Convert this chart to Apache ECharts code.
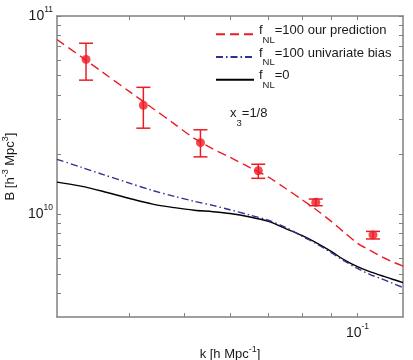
<!DOCTYPE html>
<html><head><meta charset="utf-8">
<script src="https://cdn.jsdelivr.net/npm/echarts@6/dist/echarts.min.js"></script>
<style>html,body{margin:0;padding:0;background:#fff}#c{width:413px;height:360px}</style>
</head><body><div id="c"></div>
<script>
// ---- data ----
const kGrid = [0.03, 0.033, 0.036, 0.04, 0.044, 0.048, 0.052, 0.056, 0.06, 0.065, 0.07, 0.075, 0.08, 0.085, 0.09, 0.095, 0.1, 0.105, 0.11, 0.115, 0.12];
const bPrediction = [7.61e10, 6.25e10, 5.21e10, 4.18e10, 3.43e10, 2.86e10, 2.415e10, 2.14e10, 1.94e10, 1.72e10, 1.54e10, 1.35e10, 1.188e10, 1.05e10, 9.22e9, 8.08e9, 7.15e9, 6.61e9, 6.13e9, 5.77e9, 5.49e9];
const bUnivariate = [1.894e10, 1.731e10, 1.592e10, 1.441e10, 1.32e10, 1.233e10, 1.164e10, 1.11e10, 1.055e10, 9.92e9, 9.34e9, 8.6e9, 7.78e9, 7.09e9, 6.41e9, 5.81e9, 5.34e9, 4.99e9, 4.74e9, 4.5e9, 4.28e9];
const bGaussian = [1.455e10, 1.388e10, 1.308e10, 1.206e10, 1.127e10, 1.082e10, 1.05e10, 1.032e10, 1.01e10, 9.7e9, 9.22e9, 8.48e9, 7.83e9, 7.17e9, 6.51e9, 5.88e9, 5.45e9, 5.15e9, 4.92e9, 4.71e9, 4.53e9];
const kPoints = [0.0337, 0.0424, 0.0533, 0.0672, 0.0846, 0.1064];
const bPoints = [6.04e10, 3.55e10, 2.30e10, 1.66e10, 1.15e10, 7.88e9];
const bLow = [4.75e10, 2.72e10, 1.95e10, 1.52e10, 1.106e10, 7.52e9];
const bHigh = [7.29e10, 4.37e10, 2.67e10, 1.79e10, 1.195e10, 8.21e9];
const xTickValues = [0.04, 0.05, 0.06, 0.07, 0.08, 0.09, 0.1];
const xLabelValues = [0.1];
const yTickValues = [4e9, 5e9, 6e9, 7e9, 8e9, 9e9, 1e10, 2e10, 3e10, 4e10, 5e10, 6e10, 7e10, 8e10, 9e10, 1e11];
const yLabelValues = [1e10, 1e11];
const seriesNames = ['f_NL=100 our prediction', 'f_NL=100 univariate bias', 'f_NL=0'];

// ---- styles ----
const RED = '#ed1c24', BLUE = '#2e3192', BLACK = '#000000', AX = '#808080', TXT = '#1a1a1a';
const FONT = 'Liberation Sans, Arial, Helvetica, sans-serif';
const pair = (xs, ys) => xs.map((x, i) => [x, ys[i]]);
const expLabel = v => '{b|10}{s|' + Math.round(Math.log10(v)) + '}';
const tickRich = {
  b: {fontSize: 14, fontFamily: FONT, color: TXT, padding: [4, 0, 4, 0]},
  s: {fontSize: 8.5, fontFamily: FONT, color: TXT, padding: [0, 0, 13.5, 0]}
};
const nameRich = {
  m: {fontSize: 13, fontFamily: FONT, color: TXT, padding: [3, 0, 0, 0]},
  p: {fontSize: 9, fontFamily: FONT, color: TXT, padding: [0, 0, 7, 0]}
};
const subRich = {
  m: {fontSize: 13, fontFamily: FONT, color: TXT, padding: [0, 0, 8, 0]},
  s: {fontSize: 9.5, fontFamily: FONT, color: TXT, padding: [11.5, 0, 0, 0]}
};

const baseX = {
  type: 'log', min: 0.03, max: 0.12,
  axisLine: {lineStyle: {color: AX, width: 1.5}},
  axisTick: {inside: true, length: 4, customValues: xTickValues, lineStyle: {color: AX, width: 1}},
  splitLine: {show: false}, minorTick: {show: false}
};
const baseY = {
  type: 'log', min: 3.04e9, max: 1e11,
  axisLine: {lineStyle: {color: AX, width: 1.5}},
  axisTick: {inside: true, length: 4, customValues: yTickValues, lineStyle: {color: AX, width: 1}},
  splitLine: {show: false}, minorTick: {show: false}
};

const chart = echarts.init(document.getElementById('c'), null, {renderer: 'canvas'});
chart.setOption({
  animation: false,
  backgroundColor: '#ffffff',
  grid: {left: 57, right: 10, top: 16, bottom: 43, outerBoundsMode: 'none'},
  xAxis: [
    Object.assign({}, baseX, {
      position: 'bottom',
      axisLabel: {customValues: xLabelValues, margin: 5, formatter: expLabel, rich: tickRich},
      name: '{m|k [h Mpc}{p|-1}{m|]}', nameLocation: 'middle', nameGap: 26,
      nameTextStyle: {rich: nameRich}
    }),
    Object.assign({}, baseX, {position: 'top', axisLabel: {show: false}})
  ],
  yAxis: [
    Object.assign({}, baseY, {
      position: 'left',
      axisLabel: {customValues: yLabelValues, margin: 4, formatter: expLabel, rich: tickRich},
      name: '{m|B [h}{p|-3}{m| Mpc}{p|3}{m|]}', nameLocation: 'middle', nameGap: 35, nameRotate: 90,
      nameTextStyle: {rich: nameRich}
    }),
    Object.assign({}, baseY, {position: 'right', axisLabel: {show: false}})
  ],
  legend: {
    orient: 'vertical', left: 210, top: 18.8, padding: 5,
    itemWidth: 38, itemHeight: 10, itemGap: 1.5,
    itemStyle: {opacity: 0},
    data: seriesNames,
    formatter: name => '{m|f}{s|NL}{m|' + name.replace('f_NL', '') + '}',
    textStyle: {rich: subRich}
  },
  graphic: [{
    type: 'text', left: 230, top: 107,
    style: {text: '{m|x}{s|3}{m|=1/8}', rich: subRich, fill: TXT}
  }],
  series: [
    {name: seriesNames[2], type: 'line', data: pair(kGrid, bGaussian), symbol: 'none', smooth: 0.3,
     lineStyle: {color: BLACK, width: 1.4, type: 'solid'}, itemStyle: {color: BLACK}, z: 2},
    {name: seriesNames[1], type: 'line', data: pair(kGrid, bUnivariate), symbol: 'none', smooth: 0.3,
     lineStyle: {color: BLUE, width: 1.4, type: [7, 3, 1.5, 3]}, itemStyle: {color: BLUE}, z: 3},
    {name: seriesNames[0], type: 'line', data: pair(kGrid, bPrediction), symbol: 'none', smooth: 0.3,
     lineStyle: {color: RED, width: 1.4, type: [9, 5]}, itemStyle: {color: RED}, z: 4},
    {name: 'error', type: 'custom', z: 5,
     data: kPoints.map((k, i) => [k, bLow[i], bHigh[i]]),
     encode: {x: 0, y: [1, 2]},
     renderItem: (params, api) => {
       const lo = api.coord([api.value(0), api.value(1)]);
       const hi = api.coord([api.value(0), api.value(2)]);
       const w = 7, st = {stroke: RED, lineWidth: 1.5};
       return {type: 'group', children: [
         {type: 'line', shape: {x1: lo[0], y1: lo[1], x2: hi[0], y2: hi[1]}, style: st},
         {type: 'line', shape: {x1: lo[0] - w, y1: lo[1], x2: lo[0] + w, y2: lo[1]}, style: st},
         {type: 'line', shape: {x1: hi[0] - w, y1: hi[1], x2: hi[0] + w, y2: hi[1]}, style: st}
       ]};
     }},
    {name: 'measured', type: 'scatter', z: 6, data: pair(kPoints, bPoints), symbol: 'circle', symbolSize: 9,
     itemStyle: {color: RED}}
  ]
});
</script></body></html>
